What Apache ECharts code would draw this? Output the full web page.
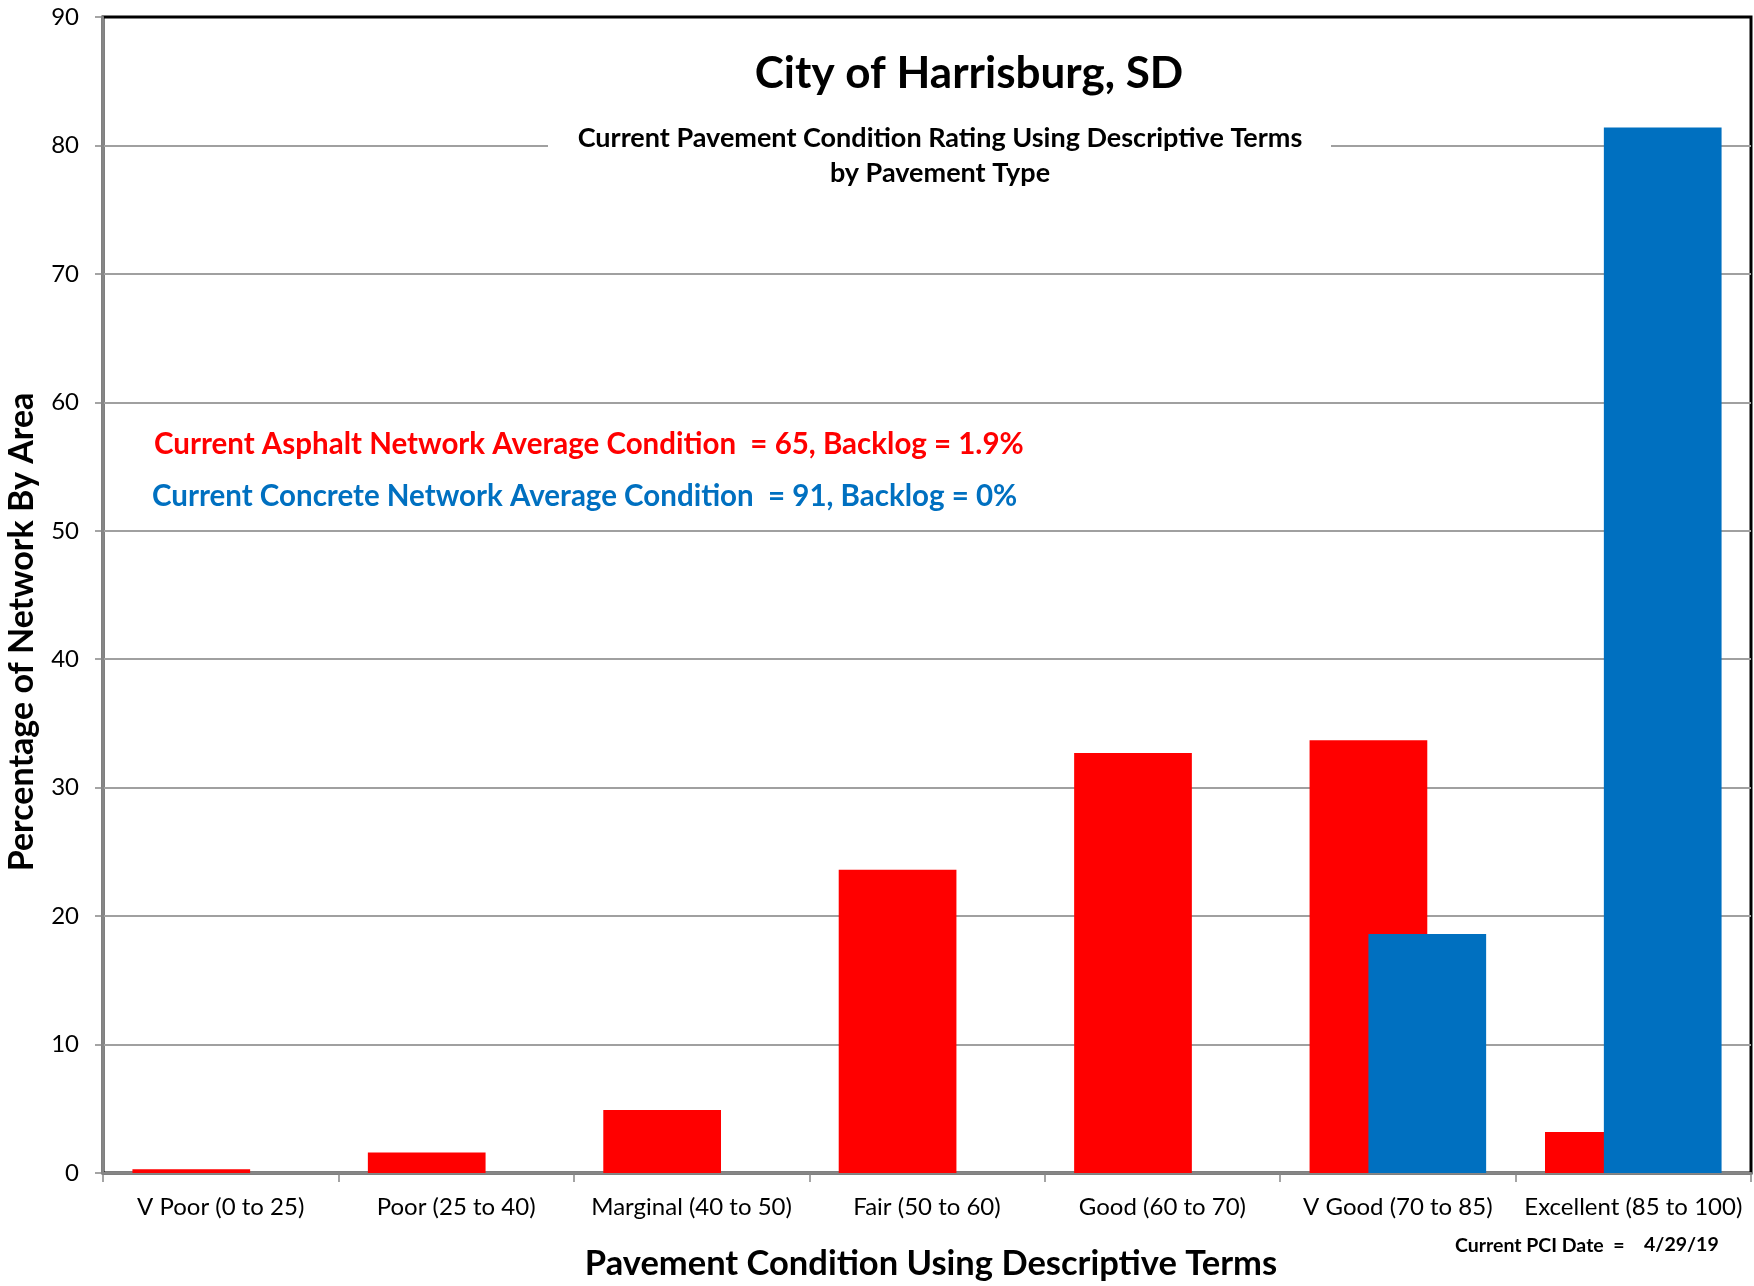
<!DOCTYPE html>
<html>
<head>
<meta charset="utf-8">
<title>City of Harrisburg, SD</title>
<script src="https://cdn.jsdelivr.net/npm/echarts@6/dist/echarts.min.js"></script>
<style>
html, body { margin: 0; padding: 0; background: #fff; }
#chart { width: 1754px; height: 1286px; }
</style>
</head>
<body>
<div id="chart"></div>
<script>
// pavement condition categories (x axis)
var categories = ['V Poor (0 to 25)', 'Poor (25 to 40)', 'Marginal (40 to 50)', 'Fair (50 to 60)',
  'Good (60 to 70)', 'V Good (70 to 85)', 'Excellent (85 to 100)'];
// percent of network by area
var asphalt = [0.3, 1.6, 4.9, 23.6, 32.7, 33.7, 3.2];
var concrete = [0, 0, 0, 0, 0, 18.6, 81.4];
var yTicks = [0, 10, 20, 30, 40, 50, 60, 70, 80, 90];

var FONT = 'Lato, "Open Sans", "Noto Sans", sans-serif';
var RED = '#ff0000';
var BLUE = '#0070c0';

function label(x, y, text, size, color, align, extra) {
  var el = {
    type: 'text',
    x: x,
    y: y,
    z: 20,
    style: {
      text: text,
      font: 'bold ' + size + 'px ' + FONT,
      fill: color,
      align: align,
      textAlign: align,
      verticalAlign: 'middle',
      textVerticalAlign: 'middle'
    }
  };
  if (extra) {
    for (var k in extra) el[k] = extra[k];
  }
  return el;
}

var chart = echarts.init(document.getElementById('chart'), null, { renderer: 'canvas' });

var option = {
  backgroundColor: '#fff',
  animation: false,
  textStyle: { fontFamily: FONT },
  grid: {
    left: 103,
    right: 3,
    top: 17,
    bottom: 113,
    show: true,
    borderColor: '#000',
    borderWidth: 3,
    backgroundColor: 'transparent'
  },
  xAxis: {
    type: 'category',
    data: categories,
    boundaryGap: true,
    axisLine: { lineStyle: { color: '#868686', width: 2 } },
    axisTick: { show: true, length: 9, lineStyle: { color: '#868686', width: 1.5 } },
    axisLabel: { color: '#000', fontSize: 24, margin: 22, interval: 0, fontFamily: FONT },
    splitLine: { show: false }
  },
  yAxis: {
    type: 'value',
    min: yTicks[0],
    max: yTicks[yTicks.length - 1],
    interval: 10,
    axisLine: { show: true, lineStyle: { color: '#868686', width: 2 } },
    axisTick: { show: true, length: 8, lineStyle: { color: '#868686', width: 1.5 } },
    axisLabel: { color: '#000', fontSize: 24, margin: 24, fontFamily: FONT },
    splitLine: { show: true, showMaxLine: false, lineStyle: { color: '#a0a0a0', width: 2 } }
  },
  series: [
    {
      name: 'Asphalt',
      type: 'bar',
      data: asphalt,
      barCategoryGap: '25%',
      barGap: '-50%',
      itemStyle: { color: RED },
      z: 2
    },
    {
      name: 'Concrete',
      type: 'bar',
      data: concrete,
      barCategoryGap: '25%',
      barGap: '-50%',
      itemStyle: { color: BLUE },
      z: 3
    }
  ],
  graphic: [
    label(969, 74, 'City of Harrisburg, SD', 44, '#000', 'center'),
    // white box hides the 80 gridline behind the subtitle
    { type: 'rect', z: 15, shape: { x: 548, y: 118, width: 783, height: 40 }, style: { fill: '#fff' } },
    label(940, 138, 'Current Pavement Condition Rating Using Descriptive Terms', 27, '#000', 'center'),
    label(940, 173, 'by Pavement Type', 27, '#000', 'center'),
    label(154, 444, 'Current Asphalt Network Average Condition  = 65, Backlog = 1.9%', 29.5, RED, 'left'),
    label(152, 496, 'Current Concrete Network Average Condition  = 91, Backlog = 0%', 29.5, BLUE, 'left'),
    label(22, 632, 'Percentage of Network By Area', 34, '#000', 'center', { rotation: Math.PI / 2 }),
    label(931, 1264, 'Pavement Condition Using Descriptive Terms', 34.5, '#000', 'center'),
    label(1455, 1246, 'Current PCI Date  =', 19.5, '#000', 'left'),
    label(1644, 1245, '4/29/19', 19.5, '#000', 'left')
  ]
};

chart.setOption(option);
</script>
</body>
</html>
